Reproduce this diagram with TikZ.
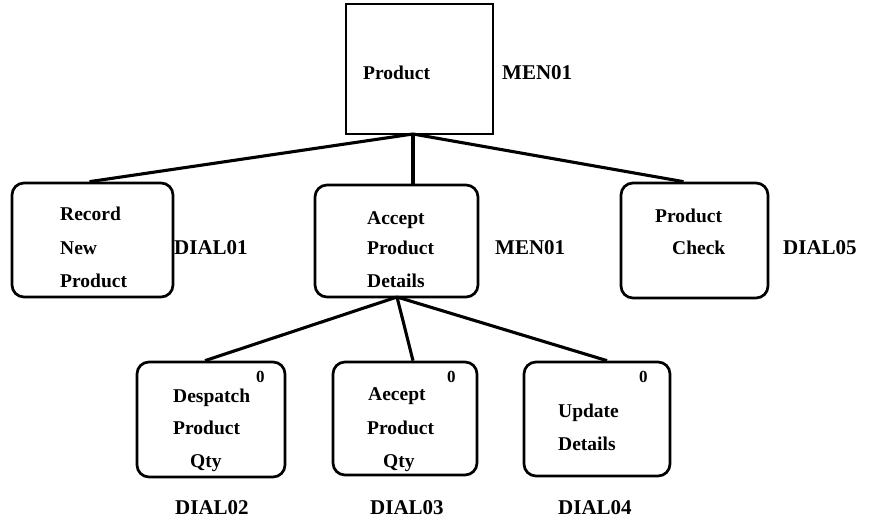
\documentclass[tikz,border=0pt]{standalone}
\usepackage{fontspec}
\setmainfont{Liberation Serif}
\begin{document}
\begin{tikzpicture}[x=1pt,y=-1pt,
  box/.style={draw=black,line width=2.7pt,rounded corners=12pt},
  sqbox/.style={draw=black,line width=2.9pt},
  conn/.style={draw=black,line width=3.1pt},
  txt/.style={anchor=base west,inner sep=0pt,font=\fontsize{19.5}{22}\selectfont\bfseries},
  lbl/.style={anchor=base west,inner sep=0pt,font=\fontsize{21}{24}\selectfont\bfseries},
  zero/.style={anchor=base west,inner sep=0pt,font=\fontsize{17}{19}\selectfont\bfseries}]
\useasboundingbox[fill=white] (0,0) rectangle (869,522);
% boxes
\path[sqbox] (346,4) rectangle (493,134);
\node[inner sep=0pt,minimum width=147pt,minimum height=130pt] (top) at (419.5,69) {};
\node[box,minimum width=161pt,minimum height=114pt] (rec) at (92.5,240) {};
\node[box,minimum width=163pt,minimum height=112pt] (acc) at (396.5,241) {};
\node[box,minimum width=147pt,minimum height=115pt] (chk) at (694.5,240.5) {};
\node[box,minimum width=148pt,minimum height=115pt] (des) at (211,419.5) {};
\node[box,minimum width=144pt,minimum height=113pt] (aqt) at (405,418.5) {};
\node[box,minimum width=146pt,minimum height=114pt] (upd) at (597,419) {};
% junctions
\coordinate (tj) at (413,134);
\coordinate (aj) at (397,297);
% connectors
\draw[conn] (tj) -- ([xshift=-3pt]rec.north);
\draw[conn] (tj) -- (tj |- acc.north);
\draw[conn] (tj) -- ([xshift=-11pt]chk.north);
\draw[conn] (aj) -- ([xshift=-6pt]des.north);
\draw[conn] (aj) -- ([xshift=8pt]aqt.north);
\draw[conn] (aj) -- ([xshift=10pt]upd.north);
% texts top
\node[txt] (t1) at (363,79) {Product};
\node[lbl] (l0) at (502,79) {MEN01};
% record
\node[txt] (r1) at (60,220) {Record};
\node[txt] (r2) at (60,254) {New};
\node[txt] (r3) at (60,287) {Product};
\node[lbl] (l1) at (174,254) {DIAL01};
% accept
\node[txt] (a1) at (367,224) {Accept};
\node[txt] (a2) at (367,254) {Product};
\node[txt] (a3) at (367,287) {Details};
\node[lbl] (l2) at (495,254) {MEN01};
% check
\node[txt] (c1) at (655,222) {Product};
\node[txt] (c2) at (672,254) {Check};
\node[lbl] (l3) at (783,254) {DIAL05};
% despatch
\node[zero] (z1) at (256,382) {0};
\node[txt] (d1) at (173,402) {Despatch};
\node[txt] (d2) at (173,434) {Product};
\node[txt] (d3) at (190,467) {Qty};
\node[lbl] (l4) at (175,514) {DIAL02};
% accept qty
\node[zero] (z2) at (447,382) {0};
\node[txt] (q1) at (368,400) {Aecept};
\node[txt] (q2) at (367,434) {Product};
\node[txt] (q3) at (383,467) {Qty};
\node[lbl] (l5) at (370,514) {DIAL03};
% update
\node[zero] (z3) at (639,382) {0};
\node[txt] (u1) at (558,417) {Update};
\node[txt] (u2) at (558,450) {Details};
\node[lbl] (l6) at (558,514) {DIAL04};
\end{tikzpicture}
\end{document}
